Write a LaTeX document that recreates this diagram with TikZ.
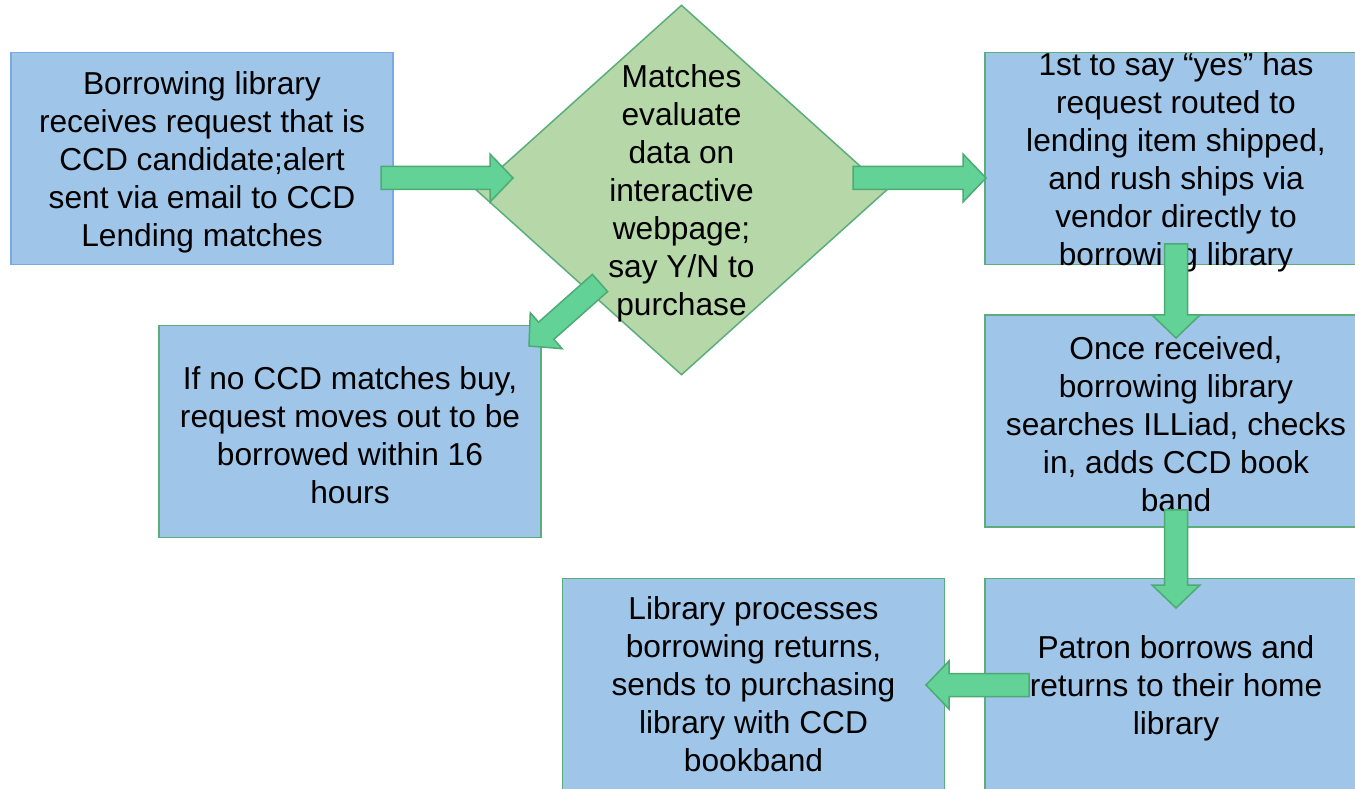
\documentclass[tikz,border=0pt]{standalone}
\usepackage{fontspec}
\setmainfont{Liberation Sans}
\usetikzlibrary{calc,positioning,shapes.geometric}
\definecolor{boxblue}{HTML}{9FC5E8}
\definecolor{boxline}{HTML}{5BAE7C}
\definecolor{blueline}{HTML}{7AA9E6}
\definecolor{diagreen}{HTML}{B6D7A8}
\definecolor{arrgreen}{HTML}{62D296}
\definecolor{arrline}{HTML}{4CAB72}

% taller first line, as in the slide
\newcommand{\fl}{\rule{0pt}{30pt}}
% fat block arrow from #1 (tail) to #2 (tip)
\newcommand{\blockarrow}[2]{%
  \coordinate (hb) at ($(#2)!23pt!(#1)$);
  \draw[fatarrow] ($(#1)!11.5pt!90:(#2)$) -- ($(hb)!11.5pt!90:(#2)$)
    -- ($(hb)!24pt!90:(#2)$) -- (#2) -- ($(hb)!24pt!-90:(#2)$)
    -- ($(hb)!11.5pt!-90:(#2)$) -- ($(#1)!11.5pt!-90:(#2)$) -- cycle;}

\begin{document}
\begin{tikzpicture}[x=1pt, y=1pt,
    txt/.style={font=\fontsize{31.7}{38}\selectfont, align=center, text=black},
    box/.style={txt, draw=boxline, line width=1.5pt, fill=boxblue,
      minimum width=382pt, minimum height=212pt, inner sep=0pt},
    decision/.style={diamond, draw=boxline, line width=1.5pt, fill=diagreen,
      minimum width=411pt, minimum height=370pt, inner sep=0pt},
    fatarrow/.style={draw=arrline, line width=1.5pt, fill=arrgreen}]
\useasboundingbox (0,0) rectangle (1355,788);

\node[box, draw=blueline] (borrow) at (202,629.5)
  {\fl Borrowing library\\receives request that is\\CCD candidate;alert\\sent via email to CCD\\Lending matches};
\node[box] (nomatch) at (350,356.5)
  {\fl If no CCD matches buy,\\request moves out to be\\borrowed within 16\\hours};
\node[decision] (match) at (681.5,598) {};
\node[txt] (matchtext) at (match.center)
  {\fl Matches\\evaluate\\data on\\interactive\\webpage;\\say Y/N to\\purchase};
\node[box, inner ysep=-8pt] (ship) at (1176,629.5)
  {\fl 1st to say “yes” has\\request routed to\\lending item shipped,\\and rush ships via\\vendor directly to\\borrowing library};
\node[box] (received) at (1176,367)
  {\fl Once received,\\borrowing library\\searches ILLiad, checks\\in, adds CCD book\\band};
\node[box] (patron) at (1176,103.5)
  {\fl Patron borrows and\\returns to their home\\library};
\node[box, left=39pt of patron] (process)
  {Library processes\\borrowing returns,\\sends to purchasing\\library with CCD\\bookband};

% arrow ends
\coordinate (t1) at (381,610);   \coordinate (h1) at (513,610);
\coordinate (t2) at (853,610);   \coordinate (h2) at (986,610);
\coordinate (t3) at (600,505);   \coordinate (h3) at (529,442);
\coordinate (t4) at (ship.south |- 0,544);     \coordinate (h4) at (ship.south |- 0,450);
\coordinate (t5) at (received.south |- 0,278); \coordinate (h5) at (received.south |- 0,180);
\coordinate (t6) at (1029,103);  \coordinate (h6) at (926,103);

\blockarrow{t1}{h1}
\blockarrow{t2}{h2}
\blockarrow{t3}{h3}
\blockarrow{t4}{h4}
\blockarrow{t5}{h5}
\blockarrow{t6}{h6}

\end{tikzpicture}
\end{document}
